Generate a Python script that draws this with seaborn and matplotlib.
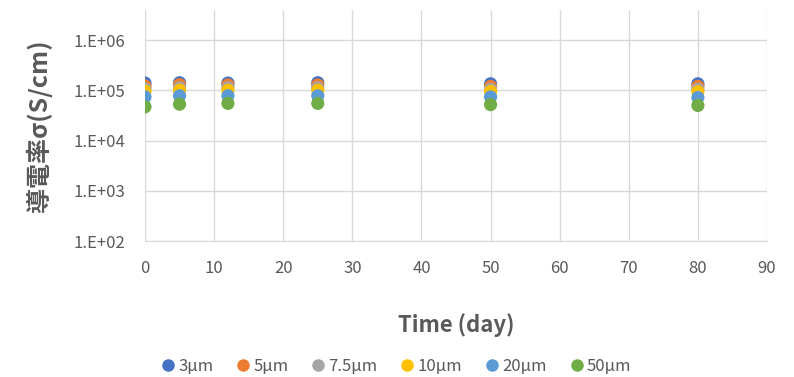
import numpy as np
import pandas as pd
import seaborn as sns
import matplotlib.pyplot as plt
from matplotlib.ticker import FixedLocator, FuncFormatter, NullLocator

# Time points (days) and conductivity for each particle size (S/cm)
days = [0, 5, 12, 25, 50, 80]
sizes = ['3µm', '5µm', '7.5µm', '10µm', '20µm', '50µm']

sigma_3um = [1.40e5, 1.42e5, 1.40e5, 1.42e5, 1.35e5, 1.35e5]
sigma_5um = [1.22e5, 1.30e5, 1.28e5, 1.28e5, 1.20e5, 1.20e5]
sigma_7_5um = [1.07e5, 1.12e5, 1.12e5, 1.12e5, 1.05e5, 1.05e5]
sigma_10um = [9.6e4, 1.00e5, 1.00e5, 1.00e5, 9.5e4, 9.4e4]
sigma_20um = [7.4e4, 7.8e4, 7.8e4, 7.8e4, 7.4e4, 7.2e4]
sigma_50um = [4.7e4, 5.3e4, 5.5e4, 5.5e4, 5.2e4, 5.0e4]

palette = ['#4472C4', '#ED7D31', '#A5A5A5', '#FFC000', '#5B9BD5', '#70AD47']

series = [sigma_3um, sigma_5um, sigma_7_5um, sigma_10um, sigma_20um, sigma_50um]
df = pd.concat([
    pd.DataFrame({'day': days, 'sigma': vals, 'size': name})
    for name, vals in zip(sizes, series)
], ignore_index=True)

sns.set_style('white')
plt.rcParams['font.family'] = ['Noto Sans CJK JP', 'DejaVu Sans']

fig = plt.figure(figsize=(7.94, 3.77), dpi=100)
ax = fig.add_axes([0.1826, 0.3607, 0.7834, 0.6128])

sns.scatterplot(data=df, x='day', y='sigma', hue='size', hue_order=sizes,
                palette=palette, s=90, linewidth=0, ax=ax, zorder=3)

ax.set_yscale('log')
ax.set_ylim(1e2, 10 ** 6.6)
ax.set_xlim(0, 90)
ax.yaxis.set_major_locator(FixedLocator([1e2, 1e3, 1e4, 1e5, 1e6]))
ax.yaxis.set_minor_locator(NullLocator())
ax.yaxis.set_major_formatter(FuncFormatter(lambda v, p: '1.E+%02d' % round(np.log10(v))))
ax.set_xticks(range(0, 91, 10))

ax.grid(True, color='#d9d9d9', linewidth=1)
ax.set_axisbelow(True)
for side in ['top', 'right', 'left']:
    ax.spines[side].set_visible(False)
ax.spines['bottom'].set_color('#d9d9d9')
ax.tick_params(axis='both', length=0, labelsize=12, colors='#595959')
ax.tick_params(axis='y', pad=14)
ax.tick_params(axis='x', pad=14)

ax.set_xlabel('Time (day)', fontsize=16, fontweight='bold', color='#595959', labelpad=26)
ax.set_ylabel('導電率σ(S/cm)', fontsize=18, fontweight='bold', color='#595959', labelpad=16)

handles, labels = ax.get_legend_handles_labels()
ax.legend(handles, labels, loc='center', bbox_to_anchor=(0.5, 0.027),
          bbox_transform=fig.transFigure, ncol=6, frameon=False,
          fontsize=12, labelcolor='#595959', handlelength=0.6,
          handletextpad=0.3, columnspacing=1.5, markerscale=0.95)

fig.savefig('out.png', dpi=100)
